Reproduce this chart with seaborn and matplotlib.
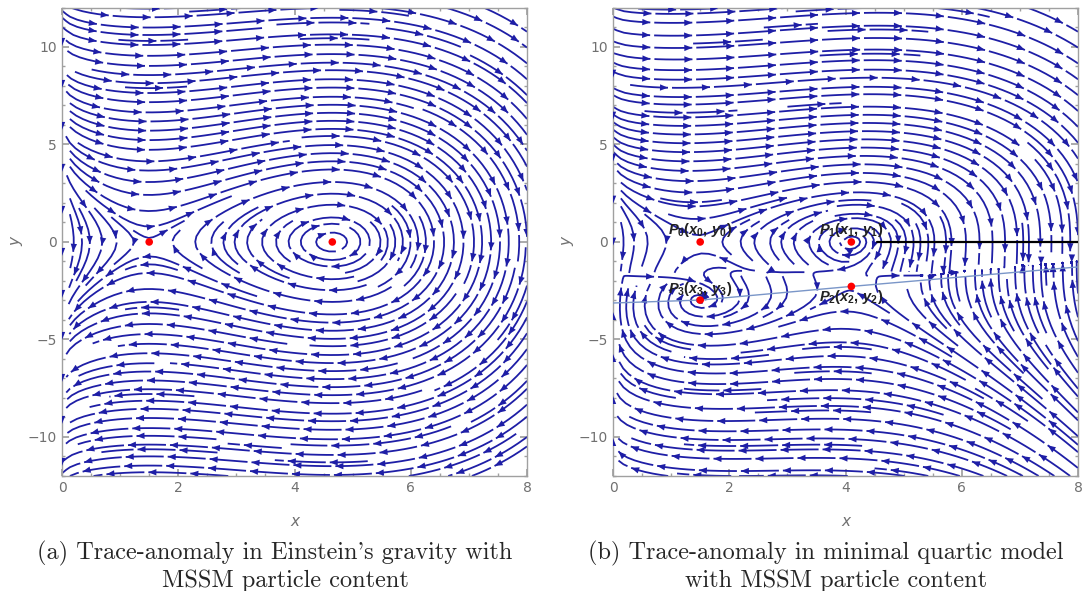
import numpy as np
import matplotlib
matplotlib.use("Agg")
import matplotlib.pyplot as plt
from matplotlib.collections import LineCollection, PolyCollection
import seaborn as sns

# values
# panel (a): saddle and centre on the x axis
a_pts_x = [1.5, 4.65]
a_pts_y = [0.0, 0.0]

# panel (b): P0, P1, P2, P3
b_pts_x = [1.5, 4.1, 4.1, 1.5]
b_pts_y = [0.0, 0.0, -2.28, -2.98]
b_labels = [r"$P_0(x_0,\,y_0)$", r"$P_1(x_1,\,y_1)$",
            r"$P_2(x_2,\,y_2)$", r"$P_3(x_3,\,y_3)$"]

black_x = [4.55, 8.0]
black_y = [0.0, 0.0]
blue_x = [0.0, 1.5, 4.1, 8.0]
blue_y = [-3.13, -2.98, -2.28, -1.28]

captions = [["(a) Trace-anomaly in Einstein's gravity with", "MSSM particle content"],
            ["(b) Trace-anomaly in minimal quartic model", "with MSSM particle content"]]

x_ticks = [0, 2, 4, 6, 8]
y_ticks = [-10, -5, 0, 5, 10]

sns.set_theme(style="ticks")
plt.rcParams.update({
    "axes.edgecolor": "#a0a0a0",
    "axes.linewidth": 1.0,
    "xtick.color": "#a0a0a0", "ytick.color": "#a0a0a0",
    "xtick.labelcolor": "#707070", "ytick.labelcolor": "#707070",
    "xtick.direction": "in", "ytick.direction": "in",
    "xtick.top": True, "ytick.right": True,
    "xtick.major.size": 5, "ytick.major.size": 5,
    "xtick.minor.size": 2.5, "ytick.minor.size": 2.5,
    "xtick.labelsize": 10, "ytick.labelsize": 10,
    "lines.scale_dashes": False,
    "mathtext.fontset": "custom",
    "mathtext.it": "Liberation Sans:italic:bold",
    "mathtext.rm": "Liberation Sans:bold",
})
plt.rcParams["font.family"] = ["DejaVu Sans"]

blue = "#1e1ea6"

# vector fields on a regular grid
gx = np.linspace(0, 8, 200)
gy = np.linspace(-12, 12, 300)
X, Y = np.meshgrid(gx, gy)
edge = X / (X + 0.25)

xs, xc = a_pts_x
Ua = Y * edge
Va = -(X - xs) * (X - xc)

xa, xb = b_pts_x[0], b_pts_x[1]
y2, y3 = b_pts_y[2], b_pts_y[3]
L = y3 + (y2 - y3) / (xb - xa) * (X - xa)
s = 0.5 * (1 + np.tanh((X - 5.2) / 0.5))
M = (1 - s) * (-1.65) + s * (L + 0.25)
Ub = 0.3 * Y * (Y - M) * (Y - L) * edge / (1 + (Y / 8) ** 2)
Vb = -(X - xa) * (X - xb) * (Y - M) + 0.12 * Y * (Y - L)

fig = plt.figure(figsize=(10.84, 5.91), dpi=100)
ax1 = fig.add_axes([0.0572, 0.1946, 0.429, 0.792])
ax2 = fig.add_axes([0.5655, 0.1946, 0.429, 0.792])


def mathematica_style(ax, sp, dash=38.0, gap=4.0, head=8.0, half=3.2):
    # join the streamplot pieces back into whole streamlines
    chains, cur = [], None
    for seg in sp.lines.get_segments():
        seg = np.asarray(seg)
        if len(seg) < 2:
            continue
        if cur is not None and np.allclose(seg[0], cur[-1]):
            cur.extend(list(seg[1:]))
        else:
            if cur is not None:
                chains.append(np.array(cur))
            cur = list(seg)
    if cur is not None:
        chains.append(np.array(cur))
    sp.lines.remove()
    for p in list(ax.patches):
        p.remove()

    inv = ax.transData.inverted()
    tris = []
    for ch in chains:
        pix = ax.transData.transform(ch)
        d = np.hypot(*np.diff(pix, axis=0).T)
        cum = np.concatenate([[0], np.cumsum(d)])
        total = cum[-1]
        if total < 6:
            continue
        pos = np.arange(dash, total, dash + gap)
        if len(pos) == 0:
            pos = [total]
        for sv in pos:
            i = min(max(np.searchsorted(cum, sv) - 1, 0), len(d) - 1)
            while d[i] == 0 and i > 0:
                i -= 1
            if d[i] == 0:
                continue
            t = (sv - cum[i]) / d[i]
            tip = pix[i] + t * (pix[i + 1] - pix[i])
            u = (pix[i + 1] - pix[i]) / d[i]
            n = np.array([-u[1], u[0]])
            base = tip - head * u
            tri = np.array([tip, base + half * n, base - half * n])
            tris.append(inv.transform(tri))
    ax.add_collection(LineCollection(chains, colors=blue, linewidths=1.3,
                                     linestyles=[(0, (dash * 0.72, gap * 0.72))],
                                     capstyle="butt", zorder=2))
    ax.add_collection(PolyCollection(tris, facecolors=blue, edgecolors="none", zorder=3))


for ax, U, V in [(ax1, Ua, Va), (ax2, Ub, Vb)]:
    ax.set_xlim(0, 8)
    ax.set_ylim(-12, 12)
    sp = ax.streamplot(gx, gy, U, V, density=2.0, color=blue, linewidth=1.3,
                       arrowsize=0.9, broken_streamlines=True)
    ax.set_xlim(0, 8)
    ax.set_ylim(-12, 12)
    mathematica_style(ax, sp)
    ax.set_xticks(x_ticks)
    ax.set_yticks(y_ticks)
    ax.set_xticks(np.arange(0, 8.01, 0.5), minor=True)
    ax.set_yticks(np.arange(-12, 12.01, 1), minor=True)
    ax.set_xlabel("x", fontstyle="italic", color="#707070", fontsize=11, labelpad=14)
    ax.set_ylabel("y", fontstyle="italic", color="#707070", fontsize=11, labelpad=3)
    for spn in ax.spines.values():
        spn.set_visible(True)

sns.scatterplot(x=a_pts_x, y=a_pts_y, color="red", s=30, edgecolor="none", ax=ax1, zorder=5)

sns.lineplot(x=black_x, y=black_y, color="black", lw=1.6, ax=ax2, zorder=4)
sns.lineplot(x=blue_x, y=blue_y, color="#7a96c8", lw=1.0, ax=ax2, zorder=4, sort=False)
sns.scatterplot(x=b_pts_x, y=b_pts_y, color="red", s=30, edgecolor="none", ax=ax2, zorder=6)

offsets = [(0.15, "bottom"), (0.15, "bottom"), (-0.08, "top"), (0.12, "bottom")]
for px, py, lab, (dy, va) in zip(b_pts_x, b_pts_y, b_labels, offsets):
    ax2.text(px, py + dy, lab, ha="center", va=va, fontsize=10.5, color="#222222", zorder=7)

cap_pos = [[(275, 559), (285, 587)], [(826, 559), (836, 587)]]
for lines, poss in zip(captions, cap_pos):
    for txt, (cx, cy) in zip(lines, poss):
        fig.text(cx / 1084, 1 - cy / 591, txt, ha="center", va="baseline",
                 family="cmr10", fontsize=17.5)

fig.savefig("out.png", dpi=100)
